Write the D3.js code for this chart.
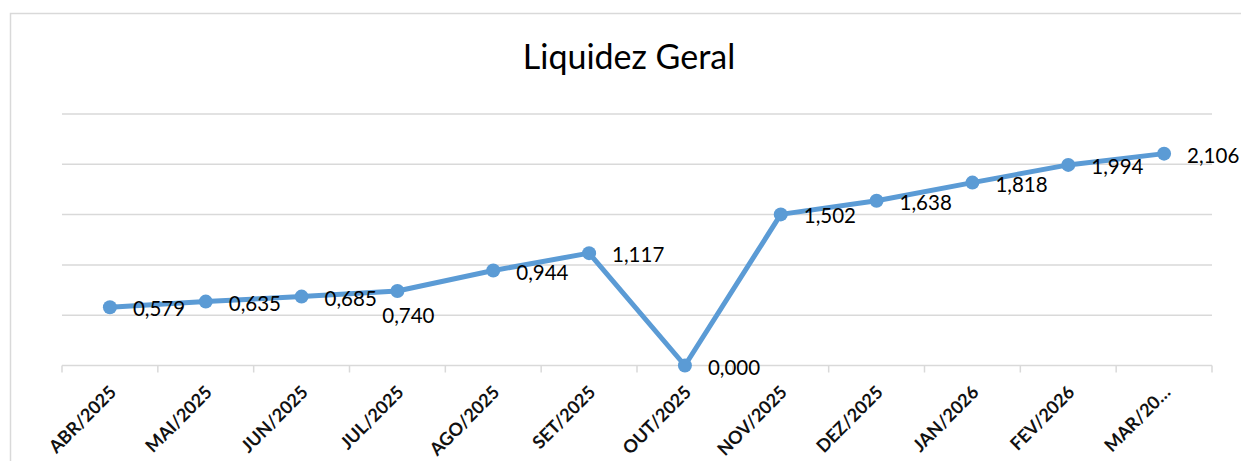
<!DOCTYPE html>
<html>
<head>
<meta charset="utf-8">
<script src="https://cdn.jsdelivr.net/npm/d3@7"></script>
<style>
  body { margin: 0; background: #fff; }
  svg { display: block; }
</style>
</head>
<body>
<svg id="chart"></svg>
<script>
var categories = ['ABR/2025', 'MAI/2025', 'JUN/2025', 'JUL/2025', 'AGO/2025', 'SET/2025',
                  'OUT/2025', 'NOV/2025', 'DEZ/2025', 'JAN/2026', 'FEV/2026', 'MAR/2026'];
var values = [0.579, 0.635, 0.685, 0.740, 0.944, 1.117, 0.000, 1.502, 1.638, 1.818, 1.994, 2.106];
var yTicks = [0, 0.5, 1, 1.5, 2, 2.5];

var width = 1241,
    height = 461;

var blue = '#5B9BD5',
    grid = '#d9d9d9';

var svg = d3.select('#chart')
    .attr('width', width)
    .attr('height', height);

// chart area border (runs off the picture at right and bottom)
svg.append('rect')
  .attr('x', 10.5)
  .attr('y', 13.5)
  .attr('width', 1300)
  .attr('height', 500)
  .attr('fill', '#fff')
  .attr('stroke', grid)
  .attr('stroke-width', 1.5);

svg.append('text')
  .text('Liquidez Geral')
  .attr('x', 629)
  .attr('y', 69)
  .attr('font-family', 'Lato, sans-serif')
  .attr('font-size', 34)
  .attr('fill', '#000')
  .style('text-anchor', 'middle');

var x = d3.scaleBand()
    .domain(categories)
    .range([62, 1212])
    .padding(0);

var y = d3.scaleLinear()
    .domain([0, 2.5])
    .range([365.5, 114]);

var cx = function(d) { return x(d) + x.bandwidth() / 2; };

// gridlines
svg.append('g')
  .selectAll('line')
  .data(yTicks.filter(function(t) { return t > 0; }))
  .enter().append('line')
  .attr('x1', 62)
  .attr('x2', 1212)
  .attr('y1', function(d) { return y(d); })
  .attr('y2', function(d) { return y(d); })
  .attr('stroke', grid)
  .attr('stroke-width', 1.5);

// category axis
svg.append('line')
  .attr('x1', 62)
  .attr('x2', 1212)
  .attr('y1', y(0))
  .attr('y2', y(0))
  .attr('stroke', grid)
  .attr('stroke-width', 1.5);

var bounds = categories.map(function(c) { return x(c); }).concat([1212]);
svg.append('g')
  .selectAll('line')
  .data(bounds)
  .enter().append('line')
  .attr('x1', function(d) { return d; })
  .attr('x2', function(d) { return d; })
  .attr('y1', y(0))
  .attr('y2', y(0) + 7)
  .attr('stroke', grid)
  .attr('stroke-width', 1.5);

svg.append('g')
  .selectAll('text')
  .data(categories)
  .enter().append('text')
  .text(function(d, i) { return i === categories.length - 1 ? d.slice(0, 6) + '\u2026' : d; })
  .attr('transform', function(d) { return 'translate(' + (cx(d) + 3) + ',389) rotate(-45)'; })
  .attr('dy', '0.35em')
  .attr('font-family', 'Lato, sans-serif')
  .attr('font-weight', 'bold')
  .attr('font-size', 18)
  .attr('fill', '#111')
  .style('text-anchor', 'end');

// series line
var line = d3.line()
    .x(function(d, i) { return cx(categories[i]); })
    .y(function(d) { return y(d); });

svg.append('path')
  .datum(values)
  .attr('d', line)
  .attr('fill', 'none')
  .attr('stroke', blue)
  .attr('stroke-width', 5)
  .attr('stroke-linejoin', 'round');

svg.append('g')
  .selectAll('circle')
  .data(values)
  .enter().append('circle')
  .attr('cx', function(d, i) { return cx(categories[i]); })
  .attr('cy', function(d) { return y(d); })
  .attr('r', 7)
  .attr('fill', blue);

// data labels, right of the point except JUL which sits below
var fmt = function(v) { return d3.format('.3f')(v).replace('.', ','); };

svg.append('g')
  .selectAll('text')
  .data(values)
  .enter().append('text')
  .text(function(d) { return fmt(d); })
  .attr('x', function(d, i) { return i === 3 ? cx(categories[i]) + 11 : cx(categories[i]) + 23; })
  .attr('y', function(d, i) { return i === 3 ? y(d) + 32 : y(d) + 9; })
  .attr('font-family', 'Lato, sans-serif')
  .attr('font-size', 20.5)
  .attr('fill', '#000')
  .style('text-anchor', function(d, i) { return i === 3 ? 'middle' : 'start'; });
</script>
</body>
</html>
